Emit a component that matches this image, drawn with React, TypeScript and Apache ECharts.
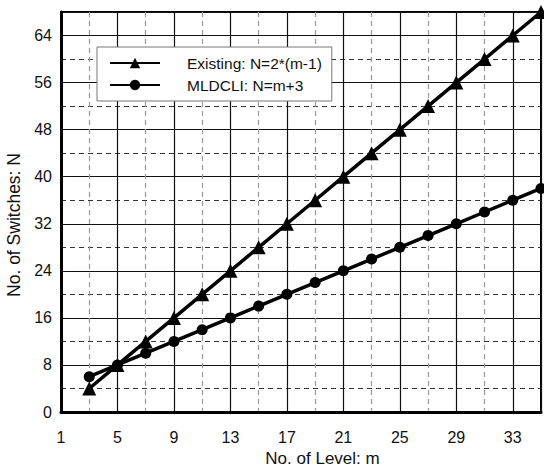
import React, { useEffect, useRef } from "react";
import * as echarts from "echarts";

const levels = [3, 5, 7, 9, 11, 13, 15, 17, 19, 21, 23, 25, 27, 29, 31, 33, 35];
const existing = [4, 8, 12, 16, 20, 24, 28, 32, 36, 40, 44, 48, 52, 56, 60, 64, 68];
const mldcli = [6, 8, 10, 12, 14, 16, 18, 20, 22, 24, 26, 28, 30, 32, 34, 36, 38];
const seriesNames = ["Existing: N=2*(m-1)", "MLDCLI: N=m+3"];

export default function App() {
  const ref = useRef<HTMLDivElement>(null);
  useEffect(() => {
    const chart = echarts.init(ref.current!, null, { renderer: "svg" });
    const font = "Liberation Sans, Arial, sans-serif";
    chart.setOption({
      animation: false,
      textStyle: { fontFamily: font },
      grid: {
        left: 61,
        right: 3,
        top: 12,
        bottom: 57,
        outerBoundsMode: "none",
        containLabel: false,
        show: true,
        borderColor: "#000",
        borderWidth: 2,
        backgroundColor: "#fff",
      },
      legend: {
        orient: "vertical",
        left: 97,
        top: 47,
        width: 248,
        backgroundColor: "#fff",
        borderColor: "#777",
        borderWidth: 1,
        borderRadius: 0,
        padding: [8, 10, 8, 12],
        itemWidth: 50,
        itemHeight: 13,
        itemGap: 6,
        textStyle: { fontSize: 15.5, color: "#111", fontFamily: font, padding: [0, 0, 0, 22] },
        data: seriesNames,
      },
      xAxis: {
        type: "value",
        min: 1,
        max: 35,
        interval: 4,
        name: "No. of Level: m",
        nameLocation: "middle",
        nameGap: 36,
        nameTextStyle: { fontSize: 17, color: "#111", fontFamily: font, padding: [0, 0, 0, 43] },
        axisLine: { show: true, lineStyle: { color: "#000", width: 3 } },
        axisTick: { show: false },
        axisLabel: { fontSize: 16, color: "#111", margin: 17, fontFamily: font,
          formatter: (v: number) => (v === 35 ? "" : String(v)) },
        splitLine: { show: true, lineStyle: { color: "#111", width: 1.2 } },
        minorTick: { show: false, splitNumber: 2 },
        minorSplitLine: { show: true, lineStyle: { color: "#999", width: 1.2, type: [5, 4] } },
      },
      yAxis: {
        type: "value",
        min: 0,
        max: 68,
        interval: 8,
        name: "No. of Switches: N",
        nameLocation: "middle",
        nameGap: 37,
        nameTextStyle: { fontSize: 17.5, color: "#111", fontFamily: font, padding: [0, 26, 0, 0] },
        axisLine: { show: true, lineStyle: { color: "#000", width: 3 } },
        axisTick: { show: false },
        axisLabel: { fontSize: 16, color: "#111", margin: 9, fontFamily: font,
          formatter: (v: number) => (v === 68 ? "" : String(v)) },
        splitLine: { show: true, lineStyle: { color: "#111", width: 1.2 } },
        minorTick: { show: false, splitNumber: 2 },
        minorSplitLine: { show: true, lineStyle: { color: "#333", width: 1.2, type: [5, 4] } },
      },
      series: [
        {
          name: seriesNames[0],
          type: "line",
          data: levels.map((m, i) => [m, existing[i]]),
          symbol: "triangle",
          symbolSize: 14,
          lineStyle: { color: "#000", width: 3.5 },
          itemStyle: { color: "#000" },
          z: 3,
        },
        {
          name: seriesNames[1],
          type: "line",
          data: levels.map((m, i) => [m, mldcli[i]]),
          symbol: "circle",
          symbolSize: 11,
          lineStyle: { color: "#000", width: 3.5 },
          itemStyle: { color: "#000" },
          z: 3,
        },
      ],
    });
    return () => chart.dispose();
  }, []);
  return (
    <div
      ref={ref}
      style={{ position: "fixed", left: 0, top: 0, width: 544, height: 469, background: "#fff" }}
    />
  );
}
